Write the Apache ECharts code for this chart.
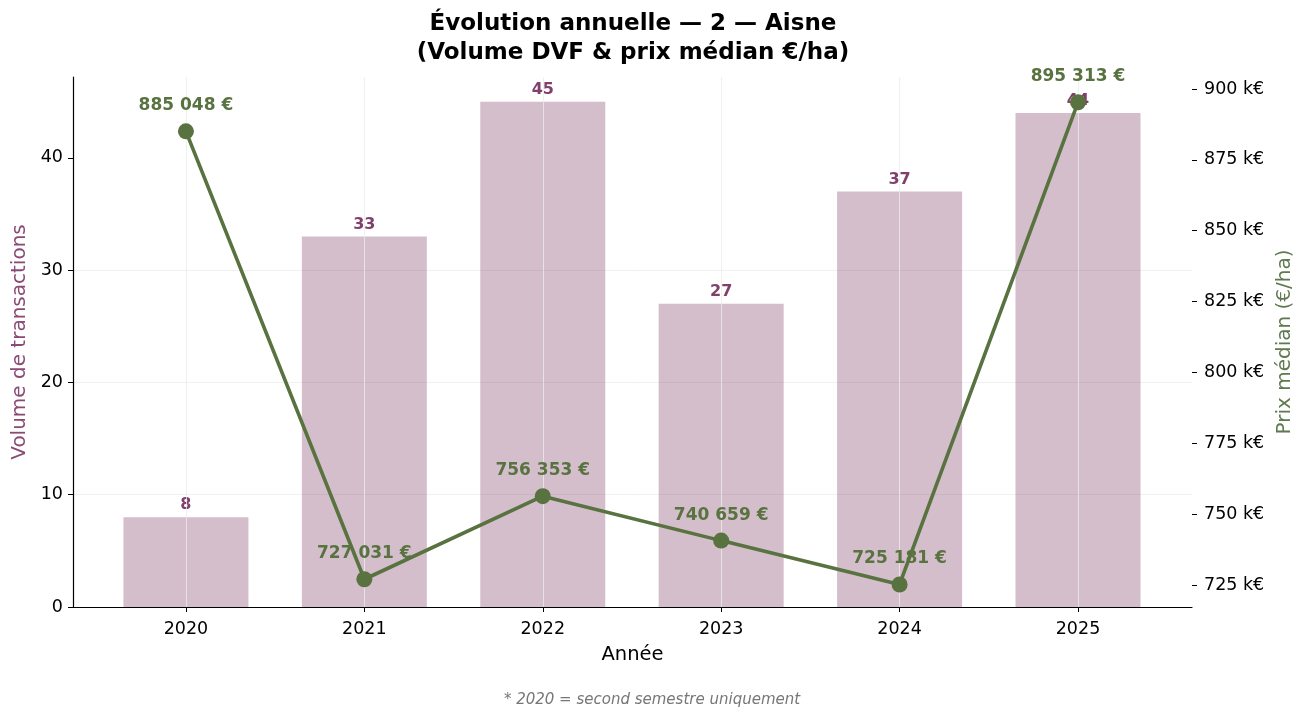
<!DOCTYPE html>
<html>
<head>
<meta charset="utf-8">
<script src="https://cdn.jsdelivr.net/npm/echarts@6/dist/echarts.min.js"></script>
<style>
  html, body { margin: 0; padding: 0; background: #fff; }
  #main { width: 1304px; height: 719px; }
</style>
</head>
<body>
<div id="main"></div>
<script>
var years = ['2020', '2021', '2022', '2023', '2024', '2025'];
var volumes = [8, 33, 45, 27, 37, 44];
var prices = [885048, 727031, 756353, 740659, 725181, 895313];
var volTicks = [0, 10, 20, 30, 40];
var priceTicks = [725000, 750000, 775000, 800000, 825000, 850000, 875000, 900000];

var idx = years.map(function (y, i) { return i; });
var barData = volumes.map(function (v, i) { return [i, v]; });
var lineData = prices.map(function (v, i) { return [i, v]; });

function fmtEuro(v) {
  return String(Math.round(v)).replace(/\B(?=(\d{3})+(?!\d))/g, ' ') + ' €';
}

var font = 'DejaVu Sans';
var chart = echarts.init(document.getElementById('main'));
var option = {
  animation: false,
  textStyle: { fontFamily: font },
  title: {
    text: 'Évolution annuelle — 2 — Aisne\n(Volume DVF & prix médian €/ha)',
    left: 628,
    top: 5,
    textAlign: 'center',
    textStyle: { fontFamily: font, fontSize: 23, fontWeight: 'bold', color: '#000', lineHeight: 28.5 }
  },
  graphic: [{
    type: 'text',
    left: 'center',
    top: 693,
    style: {
      text: '* 2020 = second semestre uniquement',
      fontFamily: font, fontSize: 15, fontStyle: 'italic', fill: '#777'
    }
  }],
  grid: { left: 73, right: 112, top: 77, bottom: 112, outerBoundsMode: 'none' },
  xAxis: {
    type: 'value',
    min: -0.633,
    max: 5.639,
    name: 'Année',
    nameLocation: 'middle',
    nameGap: 38,
    nameTextStyle: { fontFamily: font, fontSize: 19.5, color: '#000' },
    axisLine: { show: true, onZero: false, lineStyle: { color: '#000', width: 1.2 } },
    axisTick: { show: true, customValues: idx, length: 5, lineStyle: { color: '#000' } },
    axisLabel: {
      customValues: idx, margin: 13,
      fontFamily: font, fontSize: 17.5, color: '#000',
      formatter: function (v) { return years[Math.round(v)]; }
    },
    splitLine: { show: false }
  },
  yAxis: [{
    type: 'value',
    min: 0,
    max: 47.2,
    name: 'Volume de transactions',
    nameLocation: 'middle',
    nameGap: 43,
    nameTextStyle: { fontFamily: font, fontSize: 20, color: '#8a4a76' },
    axisLine: { show: true, onZero: false, lineStyle: { color: '#000', width: 1.2 } },
    axisTick: { show: true, customValues: volTicks, length: 5, lineStyle: { color: '#000' } },
    axisLabel: { customValues: volTicks, margin: 10, fontFamily: font, fontSize: 17.5, color: '#000' },
    splitLine: { show: true, showMinLine: false, showMaxLine: false, lineStyle: { color: '#ececec', width: 0.8 } },
    interval: 10
  }, {
    type: 'value',
    min: 717240,
    max: 904230,
    position: 'right',
    name: 'Prix médian (€/ha)',
    nameLocation: 'middle',
    nameGap: 82,
    nameTextStyle: { fontFamily: font, fontSize: 20, color: '#5f7a50' },
    axisLine: { show: false, onZero: false },
    axisTick: { show: true, customValues: priceTicks, length: 5, lineStyle: { color: '#000' } },
    axisLabel: {
      customValues: priceTicks, margin: 12, fontFamily: font, fontSize: 17.5, color: '#000',
      formatter: function (v) { return Math.round(v / 1000) + ' k€'; }
    },
    splitLine: { show: false }
  }],
  series: [{
    // vertical grid lines at each year
    type: 'scatter',
    data: [],
    silent: true,
    z: 0,
    markLine: {
      silent: true,
      symbol: 'none',
      label: { show: false },
      lineStyle: { color: '#ececec', width: 0.8, type: 'solid' },
      data: idx.map(function (i) { return { xAxis: i }; })
    }
  }, {
    type: 'bar',
    data: barData,
    yAxisIndex: 0,
    barWidth: 125,
    z: 2,
    itemStyle: { color: 'rgba(128,64,106,0.34)' },
    label: {
      show: true, position: 'top', distance: 4,
      fontFamily: font, fontSize: 16, fontWeight: 'bold', color: '#80406b'
    }
  }, {
    type: 'line',
    data: lineData,
    yAxisIndex: 1,
    zlevel: 1,
    z: 5,
    symbol: 'circle',
    symbolSize: 16,
    lineStyle: { color: '#587240', width: 3.6 },
    itemStyle: { color: '#587240' },
    label: {
      show: true, position: 'top', distance: 9,
      fontFamily: font, fontSize: 17, fontWeight: 'bold', color: '#587240',
      formatter: function (p) { return fmtEuro(p.value[1]); }
    }
  }]
};
chart.setOption(option);
</script>
</body>
</html>
